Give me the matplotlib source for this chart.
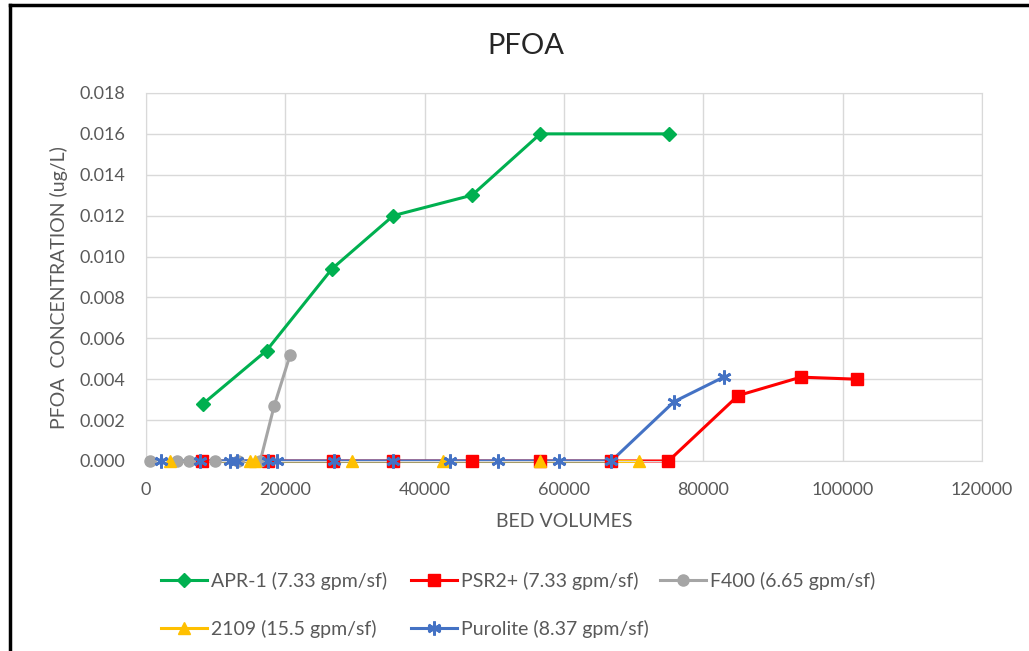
import matplotlib
matplotlib.use("Agg")
import matplotlib.pyplot as plt
from matplotlib.lines import Line2D

# series data (bed volumes, PFOA ug/L)
apr_bv = [8200, 17300, 26700, 35500, 46800, 56600, 75100]
apr_c = [0.0028, 0.0054, 0.0094, 0.0120, 0.0130, 0.0160, 0.0160]

psr_bv = [8000, 17500, 26800, 35500, 46800, 56500, 66800, 75000, 85000, 94000, 102000]
psr_c = [0, 0, 0, 0, 0, 0, 0, 0, 0.0032, 0.0041, 0.0040]

f400_bv = [600, 4400, 6200, 9900, 13200, 16400, 18400, 20700]
f400_c = [0, 0, 0, 0, 0, 0, 0.0027, 0.0052]

r2109_bv = [3400, 14900, 15600, 29600, 42700, 56600, 70800]
r2109_c = [0, 0, 0, 0, 0, 0, 0]

puro_bv = [2200, 7800, 12000, 13000, 17500, 18800, 27000, 35500, 43700, 50500,
           59300, 66800, 75800, 82900]
puro_c = [0, 0, 0, 0, 0, 0, 0, 0, 0, 0, 0, 0, 0.0029, 0.0041]

labels = ["APR-1 (7.33 gpm/sf)", "PSR2+ (7.33 gpm/sf)", "F400 (6.65 gpm/sf)",
          "2109 (15.5 gpm/sf)", "Purolite (8.37 gpm/sf)"]

plt.rcParams['font.family'] = ['Lato', 'DejaVu Sans']
txt = '#595959'

series = [
    (apr_bv, apr_c, dict(color='#00B050', marker='D', markersize=7)),
    (psr_bv, psr_c, dict(color='#FF0000', marker='s', markersize=8)),
    (f400_bv, f400_c, dict(color='#A5A5A5', marker='o', markersize=8)),
    (r2109_bv, r2109_c, dict(color='#FFC000', marker='^', markersize=8)),
    (puro_bv, puro_c, dict(color='#4472C4', marker=(6, 2, 0), markersize=10,
                           markeredgewidth=2)),
]

fig = plt.figure(figsize=(10.29, 6.51), dpi=100)
ax = fig.add_axes([0.1419, 0.2919, 0.8124, 0.5653])

lw = 2.2
handles = []
# lines first, then markers on top (as in the spreadsheet chart)
for bv, c, st in series:
    ax.plot(bv, c, color=st['color'], lw=lw, zorder=2, clip_on=False)
for bv, c, st in series:
    ax.plot(bv, c, linestyle='none', markeredgecolor=st['color'], zorder=3,
            clip_on=False, **st)
    handles.append(Line2D([], [], lw=lw, markeredgecolor=st['color'], **st))

ax.set_xlim(0, 120000)
ax.set_ylim(0, 0.018)
ax.set_xticks(range(0, 120001, 20000))
ax.set_yticks([i * 0.002 for i in range(10)])
ax.set_yticklabels([f"{i * 0.002:.3f}" for i in range(10)])
ax.grid(True, color='#D9D9D9', linewidth=1)
ax.set_axisbelow(True)
for s in ax.spines.values():
    s.set_color('#D9D9D9')
ax.tick_params(axis='both', length=0, labelsize=13, labelcolor=txt, pad=15)

fig.text(0.511, 0.929, 'PFOA', fontsize=21, color='#262626', ha='center', va='center')
ax.set_xlabel('BED VOLUMES', fontsize=14, color=txt)
ax.set_ylabel('PFOA  CONCENTRATION (ug/L)', fontsize=14, color=txt)
ax.xaxis.set_label_coords(0.5, -0.141)
ax.yaxis.set_label_coords(-0.093, 0.47)

# legend: three columns at fixed positions, two rows
cols = [[0, 3], [1, 4], [2]]
col_x = [0.156, 0.399, 0.641]
for xpos, idx in zip(col_x, cols):
    fig.legend([handles[i] for i in idx], [labels[i] for i in idx],
               frameon=False, fontsize=14, labelcolor=txt,
               loc='upper left', bbox_to_anchor=(xpos, 0.122),
               handlelength=2.4, handletextpad=0.2, labelspacing=1.55,
               borderpad=0, borderaxespad=0)

# outer frame lines (top and left)
fig.add_artist(Line2D([0.0097, 1.0], [0.992, 0.992], color='black', lw=2.5, transform=fig.transFigure))
fig.add_artist(Line2D([0.0097, 0.0097], [0.0, 0.992], color='black', lw=2.5, transform=fig.transFigure))

fig.savefig('out.png', dpi=100)
